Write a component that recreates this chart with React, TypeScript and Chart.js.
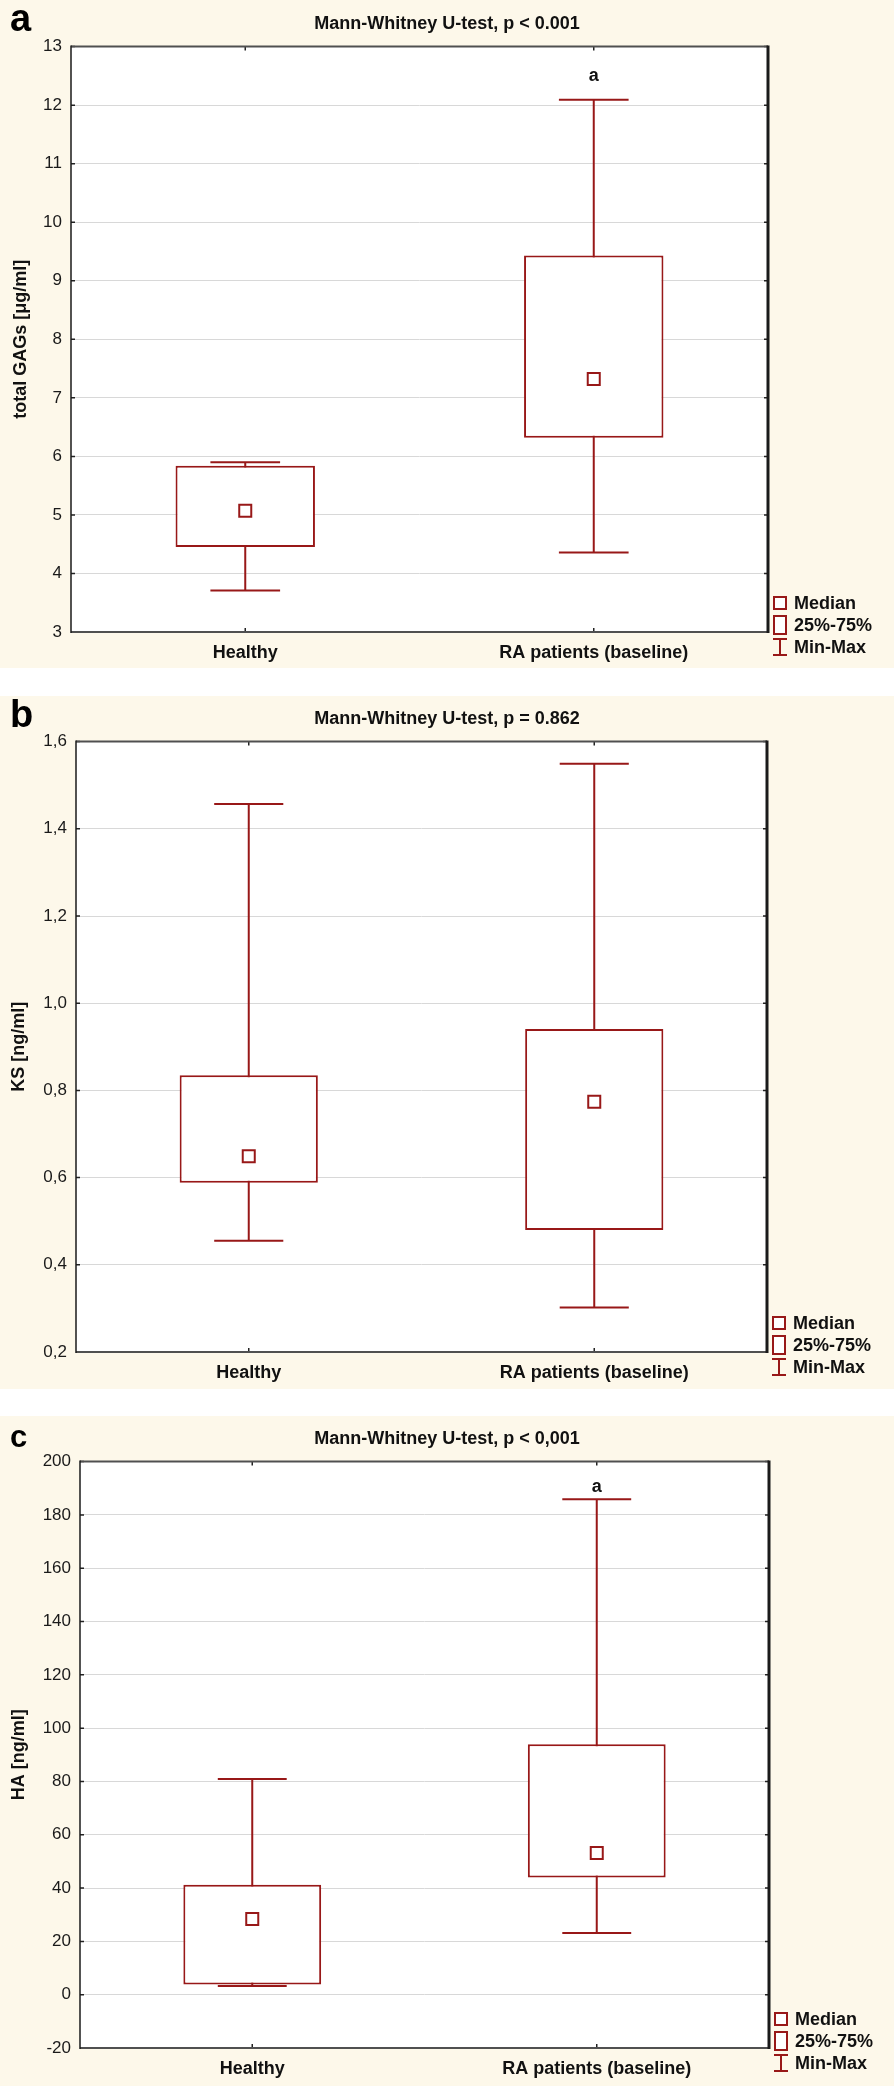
import React, { useEffect, useRef } from 'react';
import { Chart, registerables } from 'chart.js';

Chart.register(...registerables);
Chart.defaults.font.family = '"Liberation Sans", Arial, sans-serif';

// ---------- data ----------
const categories = ['Healthy', 'RA patients (baseline)'];

// panel a: total GAGs [μg/ml]
const gagsMin = [3.71, 4.36];
const gagsQ1 = [4.45, 6.32];
const gagsMedian = [5.07, 7.32];
const gagsQ3 = [5.84, 9.43];
const gagsMax = [5.9, 12.09];
const gagsTicks = [3, 4, 5, 6, 7, 8, 9, 10, 11, 12, 13];
const gagsTickLabels = ['3', '4', '5', '6', '7', '8', '9', '10', '11', '12', '13'];
const gagsMarks = ['', 'a'];

// panel b: KS [ng/ml]
const ksMin = [0.455, 0.302];
const ksQ1 = [0.588, 0.48];
const ksMedian = [0.649, 0.774];
const ksQ3 = [0.835, 0.941];
const ksMax = [1.457, 1.549];
const ksTicks = [0.2, 0.4, 0.6, 0.8, 1.0, 1.2, 1.4, 1.6];
const ksTickLabels = ['0,2', '0,4', '0,6', '0,8', '1,0', '1,2', '1,4', '1,6'];
const ksMarks = ['', ''];

// panel c: HA [ng/ml]
const haMin = [3.3, 23.1];
const haQ1 = [3.8, 44.0];
const haMedian = [28.4, 53.2];
const haQ3 = [41.2, 94.0];
const haMax = [80.9, 185.9];
const haTicks = [-20, 0, 20, 40, 60, 80, 100, 120, 140, 160, 180, 200];
const haTickLabels = ['-20', '0', '20', '40', '60', '80', '100', '120', '140', '160', '180', '200'];
const haMarks = ['', 'a'];

const legendLabels = ['Median', '25%-75%', 'Min-Max'];

// ---------- styling / layout ----------
const RED = '#981818';
const CREAM = '#fdf8ea';
const FONT = '"Liberation Sans", Arial, sans-serif';

type Panel = {
  letter: string;
  letterSize: number;
  title: string;
  yTitle: string;
  min: number[];
  q1: number[];
  med: number[];
  q3: number[];
  max: number[];
  ticks: number[];
  tickLabels: string[];
  marks: string[];
  markOffset: number;
  top: number;
  height: number;
  yWidth: number;
  xHeight: number;
  rWidth: number;
  titlePad: [number, number];
  yTitlePad: number;
};

const panels: Panel[] = [
  {
    letter: 'a', letterSize: 38,
    title: 'Mann-Whitney U-test, p < 0.001', yTitle: 'total GAGs [μg/ml]',
    min: gagsMin, q1: gagsQ1, med: gagsMedian, q3: gagsQ3, max: gagsMax,
    ticks: gagsTicks, tickLabels: gagsTickLabels, marks: gagsMarks, markOffset: 24,
    top: 0, height: 668, yWidth: 71, xHeight: 36, rWidth: 126, titlePad: [13, 12], yTitlePad: 10,
  },
  {
    letter: 'b', letterSize: 38,
    title: 'Mann-Whitney U-test, p = 0.862', yTitle: 'KS [ng/ml]',
    min: ksMin, q1: ksQ1, med: ksMedian, q3: ksQ3, max: ksMax,
    ticks: ksTicks, tickLabels: ksTickLabels, marks: ksMarks, markOffset: 20,
    top: 696, height: 693, yWidth: 76, xHeight: 37, rWidth: 127, titlePad: [12, 12], yTitlePad: 8,
  },
  {
    letter: 'c', letterSize: 31,
    title: 'Mann-Whitney U-test, p < 0,001', yTitle: 'HA [ng/ml]',
    min: haMin, q1: haQ1, med: haMedian, q3: haQ3, max: haMax,
    ticks: haTicks, tickLabels: haTickLabels, marks: haMarks, markOffset: 12,
    top: 1416, height: 670, yWidth: 80, xHeight: 38, rWidth: 125, titlePad: [12, 12], yTitlePad: 8,
  },
];

function BoxPanel({ p }: { p: Panel }) {
  const ref = useRef<HTMLCanvasElement | null>(null);

  useEffect(() => {
    const canvas = ref.current;
    if (!canvas) return;

    const decor = {
      id: 'decor' + p.letter,
      beforeDraw(chart: any) {
        const { ctx, chartArea: a } = chart;
        ctx.save();
        ctx.fillStyle = '#ffffff';
        ctx.fillRect(a.left, a.top, a.right - a.left, a.bottom - a.top);
        ctx.restore();
      },
      beforeDatasetsDraw(chart: any) {
        const { ctx } = chart;
        const ys = chart.scales.y;
        const meta = chart.getDatasetMeta(1);
        ctx.save();
        ctx.strokeStyle = RED;
        ctx.lineWidth = 2;
        meta.data.forEach((bar: any, i: number) => {
          const x = bar.x;
          const hw = bar.width / 4;
          const yTop = ys.getPixelForValue(p.max[i]);
          const yBot = ys.getPixelForValue(p.min[i]);
          ctx.beginPath();
          ctx.moveTo(x, yTop);
          ctx.lineTo(x, yBot);
          ctx.moveTo(x - hw, yTop);
          ctx.lineTo(x + hw, yTop);
          ctx.moveTo(x - hw, yBot);
          ctx.lineTo(x + hw, yBot);
          ctx.stroke();
        });
        ctx.restore();
      },
      afterDatasetsDraw(chart: any) {
        const { ctx, chartArea: a } = chart;
        const xs = chart.scales.x;
        const ys = chart.scales.y;
        ctx.save();
        // tick marks (inward)
        ctx.strokeStyle = '#222';
        ctx.lineWidth = 1.5;
        ctx.beginPath();
        ys.ticks.forEach((_: any, i: number) => {
          const y = ys.getPixelForTick(i);
          ctx.moveTo(a.left, y);
          ctx.lineTo(a.left + 4, y);
          ctx.moveTo(a.right, y);
          ctx.lineTo(a.right - 4, y);
        });
        xs.ticks.forEach((_: any, i: number) => {
          const x = xs.getPixelForTick(i);
          ctx.moveTo(x, a.top);
          ctx.lineTo(x, a.top + 4);
          ctx.moveTo(x, a.bottom);
          ctx.lineTo(x, a.bottom - 4);
        });
        ctx.stroke();
        // frame
        ctx.lineWidth = 2;
        ctx.strokeStyle = '#505050';
        ctx.beginPath();
        ctx.moveTo(a.left, a.top);
        ctx.lineTo(a.right, a.top);
        ctx.moveTo(a.left, a.bottom);
        ctx.lineTo(a.right, a.bottom);
        ctx.stroke();
        ctx.strokeStyle = '#1a1a1a';
        ctx.lineWidth = 1.5;
        ctx.beginPath();
        ctx.moveTo(a.left, a.top - 1);
        ctx.lineTo(a.left, a.bottom + 1);
        ctx.stroke();
        ctx.lineWidth = 3;
        ctx.beginPath();
        ctx.moveTo(a.right, a.top - 1);
        ctx.lineTo(a.right, a.bottom + 1);
        ctx.stroke();

        // significance marks
        ctx.fillStyle = '#111';
        ctx.font = `bold 18px ${FONT}`;
        ctx.textAlign = 'center';
        ctx.textBaseline = 'middle';
        p.marks.forEach((m, i) => {
          if (!m) return;
          const x = xs.getPixelForValue(i);
          const y = ys.getPixelForValue(p.max[i]) - p.markOffset;
          ctx.fillText(m, x, y);
        });
        ctx.restore();
      },
      afterDraw(chart: any) {
        const { ctx, chartArea: a } = chart;
        const R = a.right;
        const B = a.bottom;
        ctx.save();
        // panel letter
        ctx.fillStyle = '#000';
        ctx.font = `bold ${p.letterSize}px ${FONT}`;
        ctx.textAlign = 'left';
        ctx.textBaseline = 'alphabetic';
        ctx.fillText(p.letter, 10, 31);

        // legend
        const rows = [B - 29, B - 7, B + 15];
        ctx.strokeStyle = RED;
        ctx.lineWidth = 2;
        ctx.fillStyle = '#fff';
        ctx.fillRect(R + 6, rows[0] - 6, 12, 12);
        ctx.strokeRect(R + 6, rows[0] - 6, 12, 12);
        ctx.fillRect(R + 6, rows[1] - 9, 12, 18);
        ctx.strokeRect(R + 6, rows[1] - 9, 12, 18);
        ctx.beginPath();
        ctx.moveTo(R + 12, rows[2] - 8);
        ctx.lineTo(R + 12, rows[2] + 8);
        ctx.moveTo(R + 5, rows[2] - 8);
        ctx.lineTo(R + 19, rows[2] - 8);
        ctx.moveTo(R + 5, rows[2] + 8);
        ctx.lineTo(R + 19, rows[2] + 8);
        ctx.stroke();
        ctx.fillStyle = '#111';
        ctx.font = `bold 18px ${FONT}`;
        ctx.textBaseline = 'middle';
        legendLabels.forEach((t, i) => ctx.fillText(t, R + 26, rows[i] + 1));
        ctx.restore();
      },
    };

    const chart = new Chart(canvas, {
      type: 'bar',
      data: {
        labels: categories,
        datasets: [
          {
            type: 'line',
            label: 'Median',
            data: p.med,
            showLine: false,
            pointStyle: 'rect',
            pointRadius: 8.5,
            pointHoverRadius: 8.5,
            pointBackgroundColor: '#ffffff',
            pointBorderColor: RED,
            pointBorderWidth: 2,
            order: 0,
          } as any,
          {
            type: 'bar',
            label: '25%-75%',
            data: categories.map((_, i) => [p.q1[i], p.q3[i]]),
            backgroundColor: '#ffffff',
            borderColor: RED,
            borderWidth: 2,
            borderSkipped: false,
            barPercentage: 0.4,
            categoryPercentage: 1,
            grouped: false,
            order: 1,
          } as any,
        ],
      },
      options: {
        responsive: false,
        maintainAspectRatio: false,
        animation: false,
        events: [],
        layout: { padding: 0 },
        plugins: {
          legend: { display: false },
          tooltip: { enabled: false },
          title: {
            display: true,
            text: p.title,
            color: '#111',
            font: { size: 18, weight: 'bold', family: FONT },
            padding: { top: p.titlePad[0], bottom: p.titlePad[1] },
          },
        },
        scales: {
          x: {
            type: 'category',
            offset: true,
            grid: { display: false, drawTicks: false },
            border: { display: false },
            ticks: {
              color: '#111',
              padding: 10,
              font: { size: 18, weight: 'bold', family: FONT },
              maxRotation: 0,
            },
            afterFit: (s: any) => {
              s.height = p.xHeight;
            },
          },
          y: {
            type: 'linear',
            position: 'left',
            min: p.ticks[0],
            max: p.ticks[p.ticks.length - 1],
            afterBuildTicks: (s: any) => {
              s.ticks = p.ticks.map((v) => ({ value: v }));
            },
            grid: { color: '#d8d8d8', lineWidth: 1, drawTicks: false },
            border: { display: false },
            ticks: {
              color: '#1a1a1a',
              padding: 9,
              font: { size: 17, family: FONT },
              callback: (_v: any, i: number) => p.tickLabels[i],
            },
            title: {
              display: true,
              text: p.yTitle,
              color: '#111',
              font: { size: 18, weight: 'bold', family: FONT },
              padding: { top: p.yTitlePad, bottom: 0 },
            },
            afterFit: (s: any) => {
              s.width = p.yWidth;
            },
          },
          yR: {
            type: 'linear',
            position: 'right',
            display: true,
            grid: { display: false, drawTicks: false },
            border: { display: false },
            ticks: { display: false },
            afterFit: (s: any) => {
              s.width = p.rWidth;
            },
          },
        },
      } as any,
      plugins: [decor],
    });

    return () => {
      chart.destroy();
    };
  }, [p]);

  return (
    <canvas
      ref={ref}
      width={894}
      height={p.height}
      style={{
        position: 'absolute',
        left: 0,
        top: p.top,
        width: 894,
        height: p.height,
        display: 'block',
        background: CREAM,
      }}
    />
  );
}

export default function App() {
  return (
    <div style={{ position: 'absolute', left: 0, top: 0, width: 894, height: 2086, background: '#fff' }}>
      {panels.map((p) => (
        <BoxPanel key={p.letter} p={p} />
      ))}
    </div>
  );
}
